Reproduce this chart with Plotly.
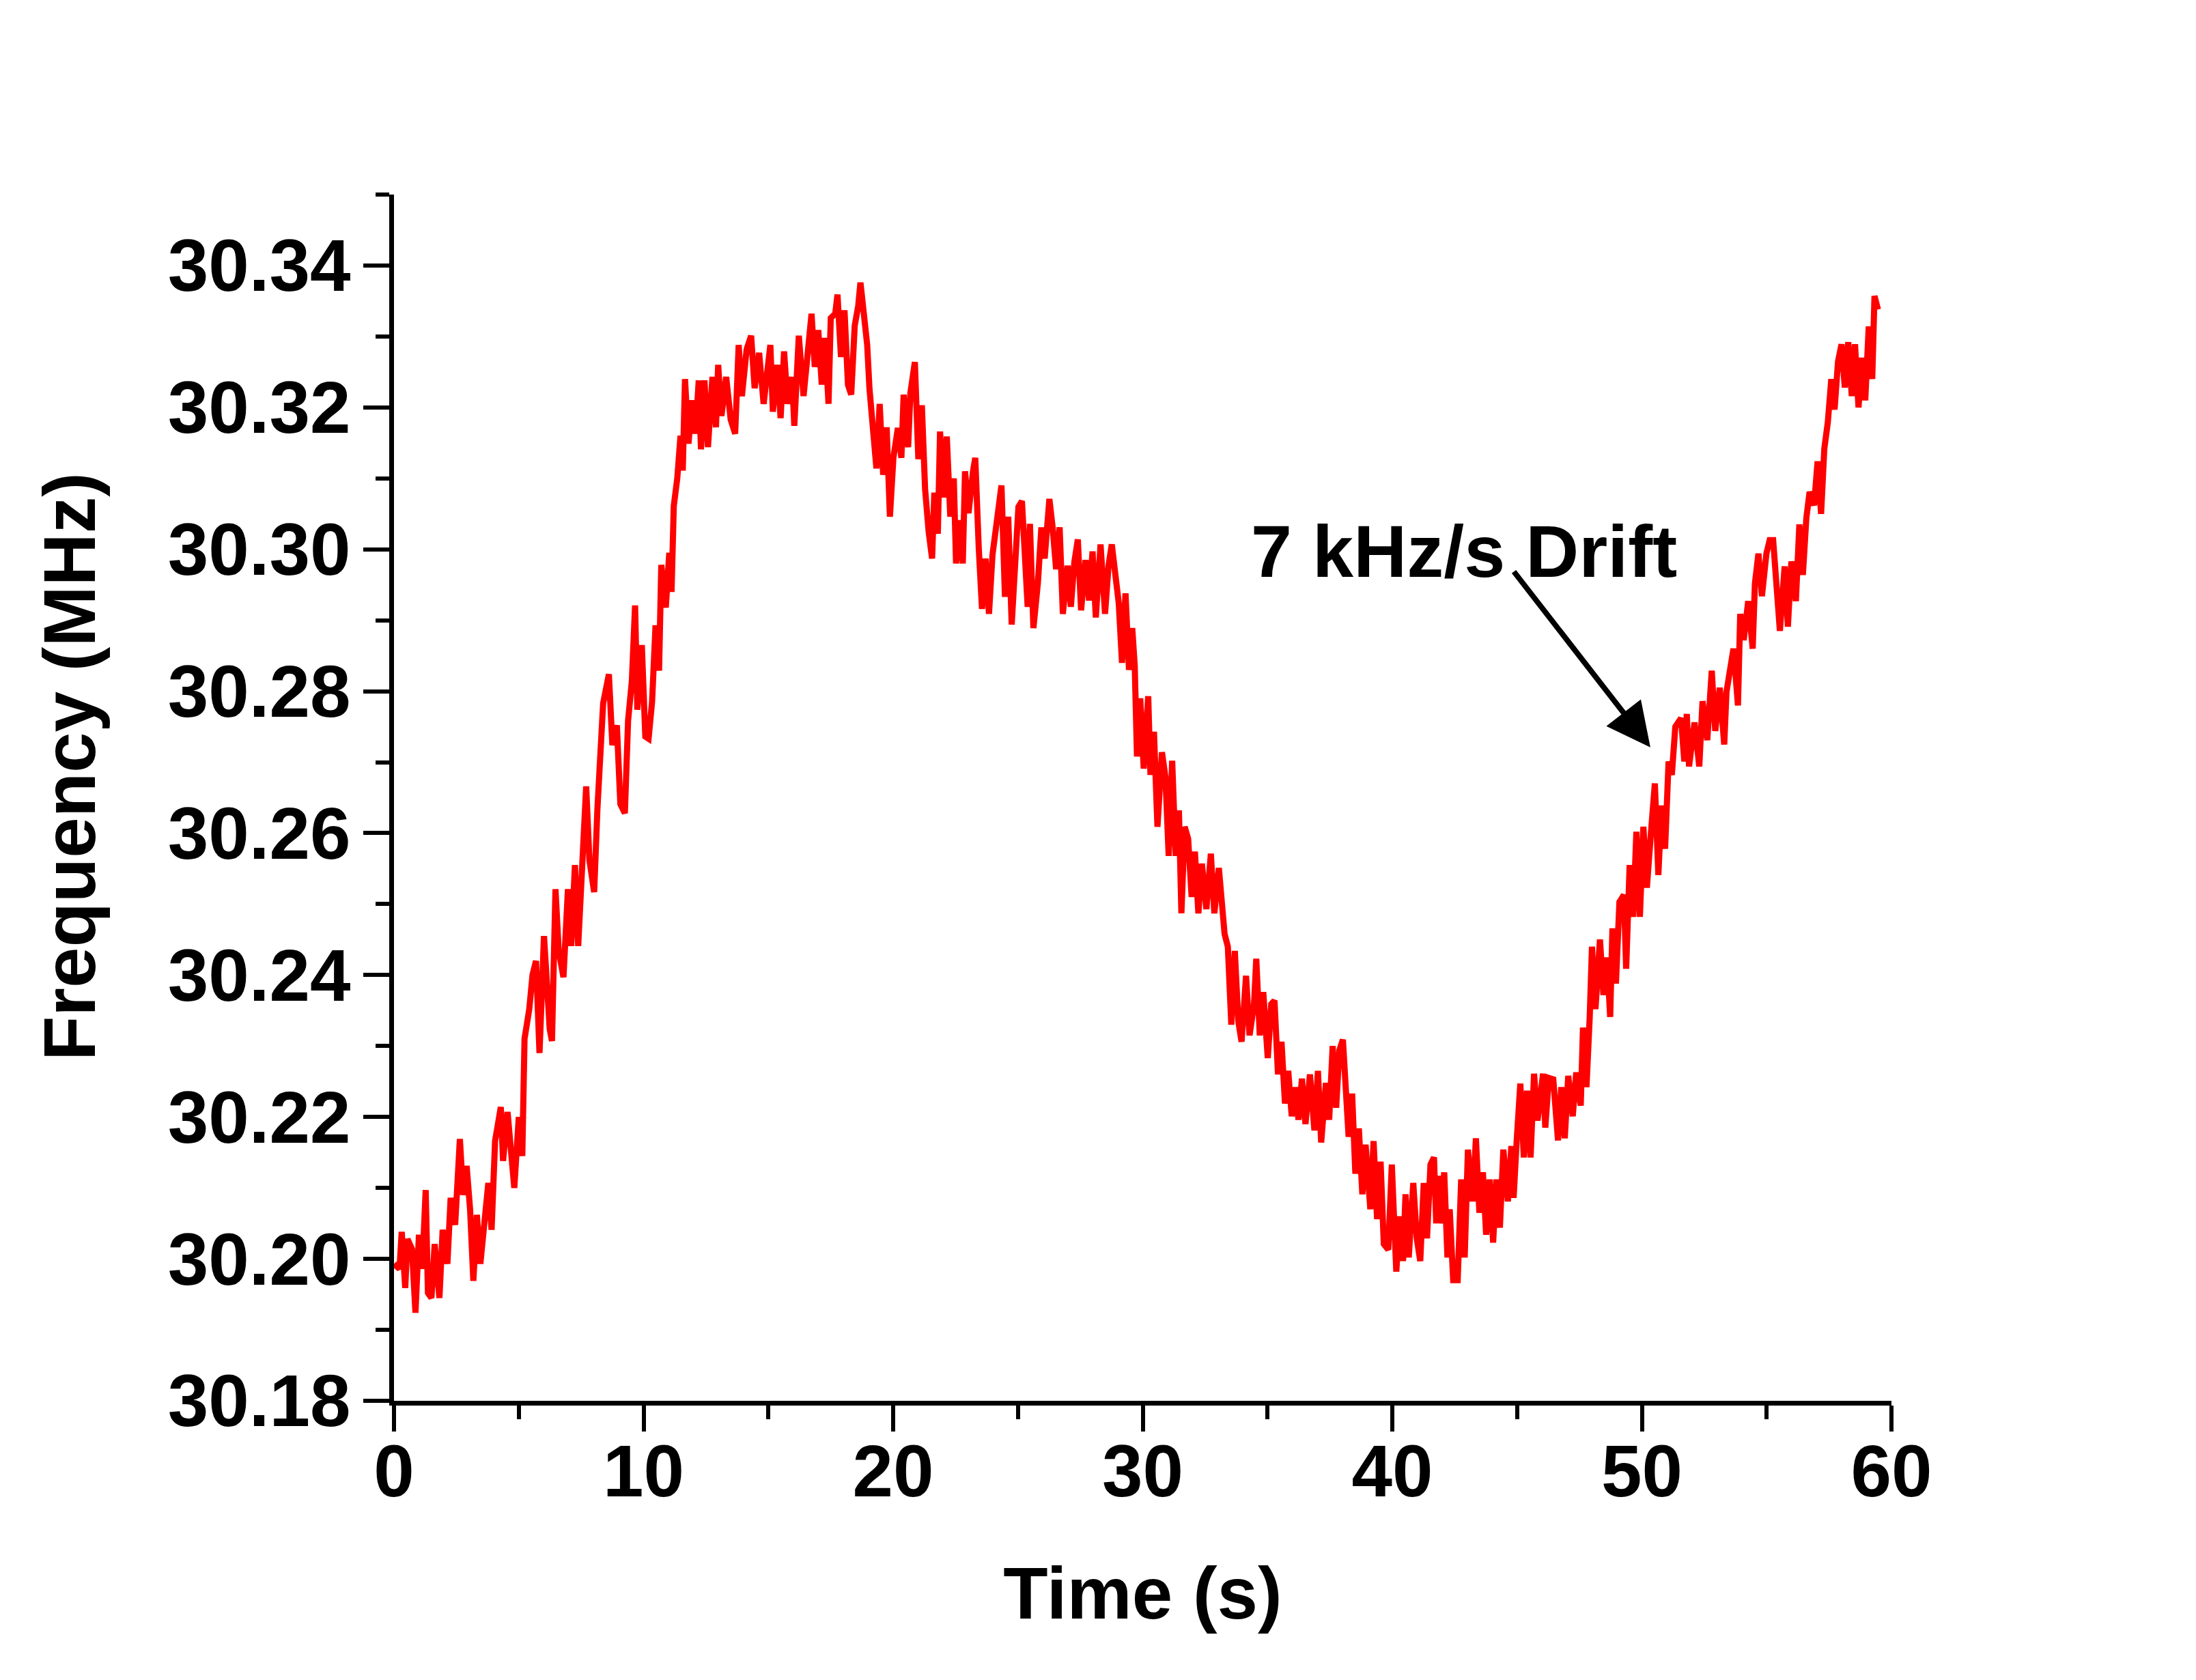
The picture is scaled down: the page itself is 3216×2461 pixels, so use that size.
import plotly.graph_objects as go

# Frequency trace, split by 10 s blocks
t_00_10 = [0.00, 0.22, 0.31, 0.45, 0.54, 0.72, 0.86, 1.00, 1.13, 1.27, 1.36, 1.50, 1.63, 1.82,
           1.95, 2.14, 2.27, 2.45, 2.64, 2.77, 2.91, 3.05, 3.18, 3.32, 3.46, 3.60, 3.78, 3.91,
           4.05, 4.28, 4.37, 4.55, 4.69, 4.82, 5.00, 5.14, 5.23, 5.42, 5.55, 5.69, 5.83, 6.01,
           6.24, 6.33, 6.47, 6.60, 6.79, 6.97, 7.10, 7.25, 7.38, 7.56, 7.70, 7.83, 8.02, 8.15,
           8.38, 8.61, 8.75, 8.93, 9.07, 9.25, 9.38, 9.53, 9.66]
f_00_10 = [30.1993, 30.1986, 30.2038, 30.1959, 30.2028, 30.2014, 30.1924, 30.2034, 30.1986,
           30.2097, 30.1952, 30.1945, 30.2021, 30.1945, 30.2041, 30.1993, 30.2086, 30.2048,
           30.2169, 30.2090, 30.2131, 30.2069, 30.1969, 30.2062, 30.1993, 30.2048, 30.2107,
           30.2041, 30.2166, 30.2214, 30.2138, 30.2207, 30.2138, 30.2100, 30.2200, 30.2145,
           30.2310, 30.2352, 30.2400, 30.2420, 30.2290, 30.2455, 30.2324, 30.2307, 30.2521,
           30.2434, 30.2397, 30.2521, 30.2441, 30.2555, 30.2441, 30.2586, 30.2666, 30.2562,
           30.2517, 30.2634, 30.2783, 30.2824, 30.2724, 30.2752, 30.2641, 30.2628, 30.2759,
           30.2814, 30.2921]

t_10_20 = [9.75, 9.93, 10.07, 10.20, 10.34, 10.48, 10.62, 10.71, 10.89, 11.03, 11.12, 11.21,
           11.35, 11.48, 11.57, 11.66, 11.80, 11.94, 12.08, 12.21, 12.30, 12.44, 12.58, 12.76,
           12.90, 12.99, 13.12, 13.31, 13.49, 13.67, 13.81, 13.94, 14.13, 14.31, 14.45, 14.63,
           14.81, 14.95, 15.08, 15.18, 15.36, 15.49, 15.63, 15.77, 15.95, 16.04, 16.22, 16.41,
           16.59, 16.73, 16.86, 17.00, 17.14, 17.27, 17.41, 17.50, 17.68, 17.77, 17.91, 18.05,
           18.19, 18.32, 18.46, 18.60, 18.69, 18.82, 18.96, 19.05, 19.19, 19.33, 19.46, 19.60,
           19.74]
f_10_20 = [30.2774, 30.2865, 30.2736, 30.2733, 30.2785, 30.2893, 30.2829, 30.2978, 30.2918,
           30.2995, 30.2940, 30.3061, 30.3100, 30.3160, 30.3111, 30.3240, 30.3149, 30.3210,
           30.3163, 30.3238, 30.3141, 30.3238, 30.3144, 30.3243, 30.3172, 30.3260, 30.3188,
           30.3243, 30.3183, 30.3163, 30.3288, 30.3216, 30.3282, 30.3301, 30.3227, 30.3277,
           30.3205, 30.3254, 30.3288, 30.3194, 30.3260, 30.3185, 30.3279, 30.3205, 30.3243,
           30.3174, 30.3301, 30.3216, 30.3296, 30.3332, 30.3257, 30.3309, 30.3232, 30.3298,
           30.3205, 30.3326, 30.3332, 30.3359, 30.3271, 30.3337, 30.3232, 30.3218, 30.3315,
           30.3343, 30.3376, 30.3337, 30.3288, 30.3227, 30.3166, 30.3114, 30.3205, 30.3105,
           30.3172]

t_20_30 = [19.87, 20.01, 20.19, 20.33, 20.42, 20.60, 20.69, 20.87, 21.01, 21.15, 21.28, 21.42,
           21.56, 21.65, 21.79, 21.88, 22.01, 22.15, 22.29, 22.43, 22.52, 22.65, 22.79, 22.88,
           23.02, 23.20, 23.29, 23.43, 23.56, 23.70, 23.84, 23.98, 24.16, 24.34, 24.48, 24.61,
           24.75, 24.89, 25.02, 25.16, 25.30, 25.39, 25.48, 25.62, 25.80, 25.94, 26.07, 26.26,
           26.39, 26.53, 26.67, 26.80, 26.99, 27.12, 27.26, 27.40, 27.53, 27.71, 27.85, 27.99,
           28.12, 28.31, 28.49, 28.63, 28.76, 28.90, 29.04, 29.17, 29.31, 29.45, 29.58]
f_20_30 = [30.3046, 30.3129, 30.3171, 30.3129, 30.3218, 30.3144, 30.3220, 30.3264, 30.3127,
           30.3203, 30.3085, 30.3026, 30.2987, 30.3080, 30.3022, 30.3166, 30.3073, 30.3159,
           30.3046, 30.3100, 30.2980, 30.3041, 30.2980, 30.3110, 30.3051, 30.3110, 30.3129,
           30.3002, 30.2916, 30.2987, 30.2909, 30.2992, 30.3046, 30.3090, 30.2933, 30.3046,
           30.2894, 30.2997, 30.3060, 30.3068, 30.2982, 30.2919, 30.3036, 30.2889, 30.2953,
           30.3031, 30.2987, 30.3071, 30.3031, 30.2972, 30.3031, 30.2909, 30.2977, 30.2919,
           30.2982, 30.3014, 30.2914, 30.2985, 30.2928, 30.2997, 30.2904, 30.3007, 30.2909,
           30.2977, 30.3007, 30.2958, 30.2924, 30.2840, 30.2938, 30.2830, 30.2889]

t_30_40 = [29.68, 29.77, 29.90, 30.04, 30.22, 30.31, 30.45, 30.59, 30.77, 30.91, 31.04, 31.18,
           31.32, 31.45, 31.55, 31.68, 31.82, 31.96, 32.09, 32.23, 32.37, 32.55, 32.73, 32.87,
           33.05, 33.19, 33.28, 33.41, 33.55, 33.69, 33.83, 33.96, 34.14, 34.28, 34.46, 34.55,
           34.69, 34.83, 35.01, 35.15, 35.28, 35.42, 35.56, 35.70, 35.83, 35.97, 36.11, 36.24,
           36.38, 36.52, 36.70, 36.88, 37.02, 37.15, 37.34, 37.47, 37.61, 37.75, 37.88, 38.02,
           38.16, 38.25, 38.39, 38.52, 38.66, 38.80, 38.93, 39.12, 39.25, 39.39, 39.53, 39.66]
f_30_40 = [30.2836, 30.2708, 30.2790, 30.2691, 30.2793, 30.2682, 30.2743, 30.2609, 30.2714,
           30.2679, 30.2568, 30.2702, 30.2568, 30.2632, 30.2487, 30.2609, 30.2592, 30.2510,
           30.2574, 30.2487, 30.2557, 30.2493, 30.2571, 30.2487, 30.2551, 30.2498, 30.2458,
           30.2440, 30.2330, 30.2434, 30.2335, 30.2306, 30.2399, 30.2315, 30.2359, 30.2423,
           30.2315, 30.2376, 30.2283, 30.2359, 30.2364, 30.2260, 30.2306, 30.2219, 30.2265,
           30.2201, 30.2242, 30.2196, 30.2254, 30.2190, 30.2260, 30.2181, 30.2265, 30.2164,
           30.2248, 30.2196, 30.2300, 30.2213, 30.2294, 30.2309, 30.2230, 30.2172, 30.2233,
           30.2120, 30.2184, 30.2091, 30.2161, 30.2070, 30.2166, 30.2056, 30.2137, 30.2021]

t_40_50 = [39.84, 39.98, 40.16, 40.30, 40.43, 40.53, 40.66, 40.84, 40.98, 41.12, 41.26, 41.39,
           41.53, 41.67, 41.76, 41.85, 41.94, 42.08, 42.21, 42.30, 42.44, 42.62, 42.76, 42.90,
           43.03, 43.22, 43.35, 43.49, 43.63, 43.76, 43.90, 44.04, 44.17, 44.31, 44.45, 44.63,
           44.77, 44.86, 44.99, 45.13, 45.27, 45.40, 45.54, 45.68, 45.82, 46.04, 46.13, 46.27,
           46.45, 46.64, 46.77, 46.91, 47.05, 47.23, 47.37, 47.55, 47.64, 47.78, 47.91, 48.00,
           48.14, 48.32, 48.46, 48.60, 48.73, 48.82, 48.96, 49.10, 49.28, 49.37, 49.51, 49.65,
           49.78, 49.92]
f_40_50 = [30.2013, 30.2133, 30.1982, 30.2060, 30.1997, 30.2091, 30.2002, 30.2107, 30.2029,
           30.1997, 30.2107, 30.2029, 30.2133, 30.2143, 30.2050, 30.2117, 30.2050, 30.2122,
           30.2002, 30.2070, 30.1970, 30.1970, 30.2112, 30.2002, 30.2154, 30.2081, 30.2170,
           30.2065, 30.2122, 30.2034, 30.2112, 30.2023, 30.2112, 30.2044, 30.2154, 30.2081,
           30.2159, 30.2086, 30.2170, 30.2247, 30.2143, 30.2237, 30.2143, 30.2261, 30.2195,
           30.2261, 30.2185, 30.2255, 30.2253, 30.2167, 30.2242, 30.2170, 30.2258, 30.2201,
           30.2263, 30.2216, 30.2326, 30.2242, 30.2341, 30.2440, 30.2352, 30.2450, 30.2372,
           30.2425, 30.2341, 30.2466, 30.2388, 30.2503, 30.2513, 30.2409, 30.2555, 30.2482,
           30.2602, 30.2482]

t_50_60 = [50.06, 50.20, 50.34, 50.52, 50.66, 50.79, 50.93, 51.07, 51.20, 51.34, 51.57, 51.70,
           51.80, 51.89, 52.11, 52.30, 52.43, 52.62, 52.80, 52.94, 53.12, 53.30, 53.39, 53.53,
           53.67, 53.85, 53.94, 54.08, 54.26, 54.44, 54.53, 54.67, 54.81, 54.99, 55.12, 55.26,
           55.40, 55.53, 55.72, 55.85, 55.99, 56.17, 56.31, 56.45, 56.59, 56.72, 56.90, 57.04,
           57.18, 57.31, 57.45, 57.59, 57.72, 57.86, 58.00, 58.13, 58.27, 58.41, 58.54, 58.68,
           58.82, 58.95, 59.09, 59.23, 59.32, 59.46]
f_50_60 = [30.2609, 30.2523, 30.2590, 30.2670, 30.2541, 30.2639, 30.2578, 30.2701, 30.2682,
           30.2750, 30.2762, 30.2701, 30.2768, 30.2694, 30.2756, 30.2694, 30.2786, 30.2731,
           30.2829, 30.2744, 30.2805, 30.2725, 30.2799, 30.2836, 30.2860, 30.2780, 30.2909,
           30.2872, 30.2927, 30.2860, 30.2952, 30.2994, 30.2934, 30.2994, 30.3013, 30.3013,
           30.2934, 30.2885, 30.2976, 30.2891, 30.2983, 30.2927, 30.3035, 30.2964, 30.3044,
           30.3081, 30.3062, 30.3124, 30.3050, 30.3142, 30.3179, 30.3240, 30.3197, 30.3265,
           30.3289, 30.3228, 30.3292, 30.3216, 30.3289, 30.3200, 30.3270, 30.3210, 30.3314,
           30.3240, 30.3357, 30.3338]

time_s = t_00_10 + t_10_20 + t_20_30 + t_30_40 + t_40_50 + t_50_60
freq_mhz = f_00_10 + f_10_20 + f_20_30 + f_30_40 + f_40_50 + f_50_60

# annotation: label position and arrow (tail -> head) in data units
label_text = "7 kHz/s Drift"
label_xy = (42.87, 30.2997)
arrow_tail = (44.84, 30.297)
arrow_head = (50.34, 30.2721)

FONT = "Liberation Sans, Arial, sans-serif"
big = dict(family=FONT, size=107, color="black", weight="bold")

fig = go.Figure()
fig.add_trace(go.Scatter(x=time_s, y=freq_mhz, mode="lines",
                         line=dict(color="#ff0000", width=9), showlegend=False))

axis_common = dict(
    showgrid=False, zeroline=False, showline=True, linecolor="black", linewidth=7,
    ticks="outside", ticklen=38, tickwidth=6, tickcolor="black",
    tickfont=big, title_font=big,
)

fig.update_xaxes(range=[0, 60], tick0=0, dtick=10, ticklabelstandoff=-33,
                 minor=dict(dtick=5, ticks="outside", ticklen=20, tickwidth=6,
                            tickcolor="black", showgrid=False),
                 title=dict(text="Time (s)", standoff=84), **axis_common)
fig.update_yaxes(range=[30.18, 30.35], tick0=30.18, dtick=0.02, tickformat=".2f",
                 ticklabelstandoff=-3,
                 minor=dict(dtick=0.01, ticks="outside", ticklen=20, tickwidth=6,
                            tickcolor="black", showgrid=False),
                 **axis_common)

# y title sits a little above the middle of the axis in the original, so use an annotation
fig.add_annotation(xref="paper", yref="paper", x=-0.2166, y=0.5257,
                   xanchor="center", yanchor="middle", textangle=-90,
                   text="Frequency (MHz)", showarrow=False, font=big)

fig.add_annotation(x=label_xy[0], y=label_xy[1], text=label_text, showarrow=False,
                   font=dict(family=FONT, size=108, color="black", weight="bold"))
fig.add_annotation(x=arrow_head[0], y=arrow_head[1], ax=arrow_tail[0], ay=arrow_tail[1],
                   axref="x", ayref="y", text="", showarrow=True,
                   arrowhead=2, arrowsize=1.6, arrowwidth=8, arrowcolor="black")

fig.update_layout(
    width=3216, height=2461, autosize=False,
    paper_bgcolor="white", plot_bgcolor="white",
    margin=dict(l=569, r=454, t=277, b=417),
    font=dict(family=FONT),
)

fig.write_html("out.html")
